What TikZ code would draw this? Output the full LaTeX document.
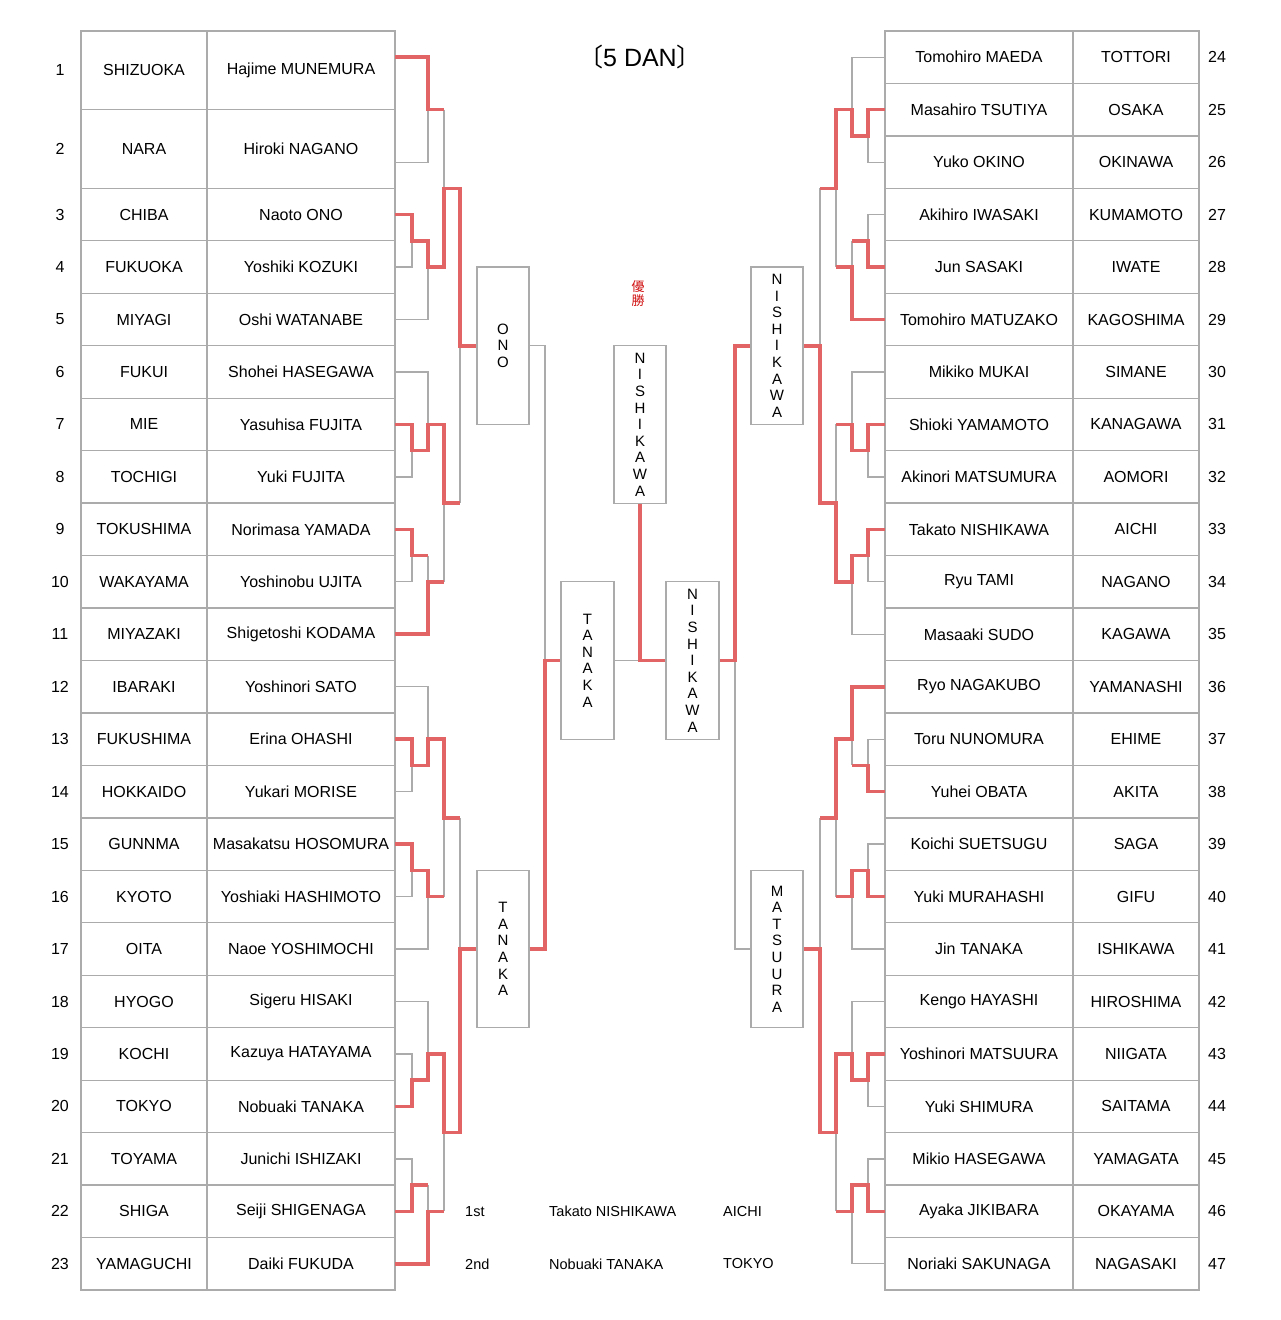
\documentclass[tikz,border=0pt]{standalone}
\usepackage{fontspec}
\setmainfont{Liberation Sans}
\newfontfamily\cjk{Noto Sans CJK JP}
\usetikzlibrary{positioning}
\definecolor{bracketred}{HTML}{E26464}
\definecolor{bracketgray}{HTML}{ABABAB}
\definecolor{titlered}{HTML}{D01010}
\tikzset{
  cellbox/.style={
    draw=bracketgray,
    line width=1.3pt,
    inner sep=0pt,
    outer sep=0pt,
    minimum height=52.46pt,
    font=\fontsize{16}{19}\selectfont
  },
  prefcell/.style={cellbox, minimum width=126pt},
  namecell/.style={cellbox, minimum width=188pt},
  numlabel/.style={inner sep=0pt, font=\fontsize{16}{19}\selectfont},
  winnerbox/.style={
    draw=bracketgray,
    line width=1.3pt,
    fill=white,
    minimum width=52pt,
    minimum height=157.4pt,
    inner sep=0pt,
    align=center,
    font=\fontsize{15}{16.6}\selectfont
  },
  win/.style={draw=bracketred, line width=3.6pt},
  lose/.style={draw=bracketgray, line width=1.3pt},
  resulttext/.style={anchor=west, inner sep=0pt, font=\fontsize{14.5}{17}\selectfont}
}

\begin{document}
\begin{tikzpicture}[x=1pt, y=-52.46pt]
\useasboundingbox (0,-0.0909) rectangle (1280,25.0711);

\node[font=\fontsize{25}{30}\selectfont] (title) at (640,1) {{\cjk 〔}5 DAN{\cjk 〕}};
\node[text=titlered, align=center, inner sep=0pt, font=\cjk\fontsize{13}{13.6}\selectfont] (champ) at (638,5.5) {優\\勝};

\node[numlabel] (ln1) at (60,1.25) {1};
\node[prefcell, minimum height=78.69pt] (lp1) at (144,1.25) {SHIZUOKA};
\node[namecell, minimum height=78.69pt, right=0pt of lp1] (lm1) {Hajime MUNEMURA};
\node[numlabel] (ln2) at (60,2.75) {2};
\node[prefcell, minimum height=78.69pt] (lp2) at (144,2.75) {NARA};
\node[namecell, minimum height=78.69pt, right=0pt of lp2] (lm2) {Hiroki NAGANO};
\foreach \i/\pref/\name in {3/CHIBA/Naoto ONO, 4/FUKUOKA/Yoshiki KOZUKI,
  5/MIYAGI/Oshi WATANABE, 6/FUKUI/Shohei HASEGAWA, 7/MIE/Yasuhisa FUJITA,
  8/TOCHIGI/Yuki FUJITA, 9/TOKUSHIMA/Norimasa YAMADA, 10/WAKAYAMA/Yoshinobu UJITA,
  11/MIYAZAKI/Shigetoshi KODAMA, 12/IBARAKI/Yoshinori SATO, 13/FUKUSHIMA/Erina OHASHI,
  14/HOKKAIDO/Yukari MORISE, 15/GUNNMA/Masakatsu HOSOMURA, 16/KYOTO/Yoshiaki HASHIMOTO,
  17/OITA/Naoe YOSHIMOCHI, 18/HYOGO/Sigeru HISAKI, 19/KOCHI/Kazuya HATAYAMA,
  20/TOKYO/Nobuaki TANAKA, 21/TOYAMA/Junichi ISHIZAKI, 22/SHIGA/Seiji SHIGENAGA,
  23/YAMAGUCHI/Daiki FUKUDA}{
  \node[numlabel] (ln\i) at (60,\i+1) {\i};
  \node[prefcell] (lp\i) at (144,\i+1) {\pref};
  \node[namecell, right=0pt of lp\i] (lm\i) {\name};
}
\foreach \k/\name/\pref in {24/Tomohiro MAEDA/TOTTORI, 25/Masahiro TSUTIYA/OSAKA,
  26/Yuko OKINO/OKINAWA, 27/Akihiro IWASAKI/KUMAMOTO, 28/Jun SASAKI/IWATE,
  29/Tomohiro MATUZAKO/KAGOSHIMA, 30/Mikiko MUKAI/SIMANE, 31/Shioki YAMAMOTO/KANAGAWA,
  32/Akinori MATSUMURA/AOMORI, 33/Takato NISHIKAWA/AICHI, 34/Ryu TAMI/NAGANO,
  35/Masaaki SUDO/KAGAWA, 36/Ryo NAGAKUBO/YAMANASHI, 37/Toru NUNOMURA/EHIME,
  38/Yuhei OBATA/AKITA, 39/Koichi SUETSUGU/SAGA, 40/Yuki MURAHASHI/GIFU,
  41/Jin TANAKA/ISHIKAWA, 42/Kengo HAYASHI/HIROSHIMA, 43/Yoshinori MATSUURA/NIIGATA,
  44/Yuki SHIMURA/SAITAMA, 45/Mikio HASEGAWA/YAMAGATA, 46/Ayaka JIKIBARA/OKAYAMA,
  47/Noriaki SAKUNAGA/NAGASAKI}{
  \node[namecell] (rm\k) at (979,\k-23) {\name};
  \node[prefcell, right=0pt of rm\k] (rp\k) {\pref};
  \node[numlabel] (rn\k) at (1217,\k-23) {\k};
}

\draw[lose] (lm2.east |- 0,3) -| (428,2);
\draw[lose] (444,2) -- (444,3.5);
\draw[lose] (lm4.east) -| (412,4.5);
\draw[lose] (lm5.east) -| (428,5);
\draw[lose] (lm6.east) -| (428,8);
\draw[lose] (lm8.east) -| (412,8.5);
\draw[lose] (lm10.east) -| (412,10.5);
\draw[lose] (428,10.5) -- (428,11);
\draw[lose] (444,9.5) -- (444,11);
\draw[lose] (460,6.5) -- (460,9.5);
\draw[lose] (lm12.east) -| (428,14);
\draw[lose] (lm14.east) -| (412,14.5);
\draw[lose] (lm16.east) -| (412,16.5);
\draw[lose] (lm17.east) -| (428,17);
\draw[lose] (444,15.5) -- (444,17);
\draw[lose] (460,15.5) -- (460,18);
\draw[lose] (lm18.east) -| (428,20);
\draw[lose] (lm19.east) -| (412,20.5);
\draw[lose] (lm21.east) -| (412,22.5);
\draw[lose] (428,22.5) -- (428,23);
\draw[lose] (444,21.5) -- (444,23);

\draw[lose] (rm24.west) -| (852,2);
\draw[lose] (rm26.west) -| (868,2.5);
\draw[lose] (rm27.west) -| (868,4.5);
\draw[lose] (852,4.5) -- (852,5);
\draw[lose] (836,3.5) -- (836,5);
\draw[lose] (820,3.5) -- (820,6.5);
\draw[lose] (rm30.west) -| (852,8);
\draw[lose] (rm32.west) -| (868,8.5);
\draw[lose] (836,8) -- (836,9.5);
\draw[lose] (rm34.west) -| (868,10.5);
\draw[lose] (rm35.west) -| (852,11);
\draw[lose] (rm37.west) -| (868,14.5);
\draw[lose] (852,14) -- (852,14.5);
\draw[lose] (rm39.west) -| (868,16.5);
\draw[lose] (rm41.west) -| (852,17);
\draw[lose] (836,15.5) -- (836,17);
\draw[lose] (820,15.5) -- (820,18);
\draw[lose] (rm42.west) -| (852,20);
\draw[lose] (rm44.west) -| (868,20.5);
\draw[lose] (rm45.west) -| (868,22.5);
\draw[lose] (rm47.west) -| (852,23);
\draw[lose] (836,21.5) -- (836,23);

\node[winnerbox] (ono) at (503,6.5) {O\\N\\O};
\node[winnerbox] (nishiR) at (777,6.5) {N\\I\\S\\H\\I\\K\\A\\W\\A};
\node[winnerbox] (nishiTop) at (640,8) {N\\I\\S\\H\\I\\K\\A\\W\\A};
\node[winnerbox, minimum width=53pt] (tanakaM) at (587.5,12.5) {T\\A\\N\\A\\K\\A};
\node[winnerbox, minimum width=53pt] (nishiM) at (692.5,12.5) {N\\I\\S\\H\\I\\K\\A\\W\\A};
\node[winnerbox] (tanakaL) at (503,18) {T\\A\\N\\A\\K\\A};
\node[winnerbox] (matsuura) at (777,18) {M\\A\\T\\S\\U\\U\\R\\A};

\draw[lose] (ono.east) -| (545,12.5);
\draw[lose] (tanakaM.east) -- (640,12.5);
\draw[lose] (matsuura.west) -| (735,12.5);

\draw[win] (lm1.east |- 0,1) -| (428,2) -- (444,2);
\draw[win] (lm3.east) -| (412,4.5) -| (428,5) -| (444,3.5) -| (460,6.5) -- (ono.west);
\draw[win] (lm7.east) -| (412,8.5) -| (428,8) -| (444,9.5) -- (460,9.5);
\draw[win] (lm9.east) -| (412,10.5) -- (428,10.5);
\draw[win] (lm11.east) -| (428,11) -- (444,11);
\draw[win] (lm13.east) -| (412,14.5) -| (428,14) -| (444,15.5) -- (460,15.5);
\draw[win] (lm15.east) -| (412,16.5) -| (428,17) -- (444,17);
\draw[win] (lm20.east) -| (412,20.5) -| (428,20) -| (444,21.5) -| (460,18) -- (tanakaL.west);
\draw[win] (lm22.east) -| (412,22.5) -- (428,22.5);
\draw[win] (lm23.east) -| (428,23) -- (444,23);

\draw[win] (rm25.west) -| (868,2.5) -| (852,2) -| (836,3.5) -- (820,3.5);
\draw[win] (rm28.west) -| (868,4.5) -- (852,4.5);
\draw[win] (rm29.west) -| (852,5) -- (836,5);
\draw[win] (rm31.west) -| (868,8.5) -| (852,8) -- (836,8);
\draw[win] (rm33.west) -| (868,10.5) -| (852,11) -| (836,9.5) -| (820,6.5) -- (nishiR.east);
\draw[win] (rm36.west) -| (852,14) -| (836,15.5) -- (820,15.5);
\draw[win] (rm38.west) -| (868,14.5) -- (852,14.5);
\draw[win] (rm40.west) -| (868,16.5) -| (852,17) -- (836,17);
\draw[win] (rm43.west) -| (868,20.5) -| (852,20) -| (836,21.5) -| (820,18) -- (matsuura.east);
\draw[win] (rm46.west) -| (868,22.5) -| (852,23) -- (836,23);

\draw[win] (tanakaL.east) -| (545,12.5) -- (tanakaM.west);
\draw[win] (nishiM.west) -| (nishiTop.south);
\draw[win] (nishiM.east) -| (735,6.5) -- (nishiR.west);

\node[resulttext] (first) at (465,23) {1st};
\node[resulttext] (firstname) at (549,23) {Takato NISHIKAWA};
\node[resulttext] (firstpref) at (723,23) {AICHI};
\node[resulttext] (second) at (465,24) {2nd};
\node[resulttext] (secondname) at (549,24) {Nobuaki TANAKA};
\node[resulttext] (secondpref) at (723,24) {TOKYO};
\end{tikzpicture}
\end{document}
